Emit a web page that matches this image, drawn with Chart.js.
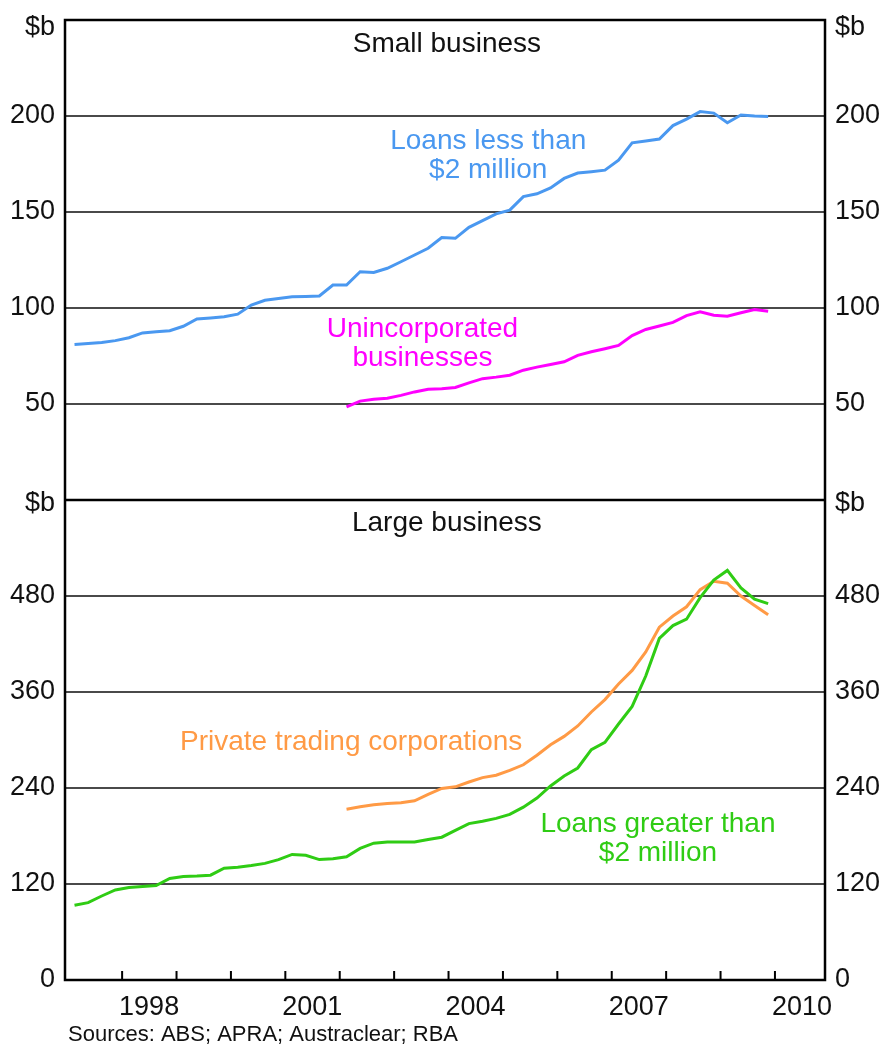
<!DOCTYPE html>
<html>
<head>
<meta charset="utf-8">
<title>Business credit</title>
<script src="https://cdn.jsdelivr.net/npm/chart.js@4.4.1/dist/chart.umd.min.js"></script>
<style>
  body { margin: 0; background: #fff; }
  #wrap { width: 885px; height: 1046px; }
</style>
</head>
<body>
<div id="wrap"><canvas id="loansChart" width="885" height="1046"></canvas></div>
<script>
// quarterly values, $b
const smallLoans = [81, 81.5, 82, 83, 84.5, 87, 87.6, 88.2, 90.5, 94.3, 94.8, 95.4,
  96.8, 101.5, 104, 104.9, 105.8, 106, 106.3, 112, 112, 118.9, 118.5, 120.7,
  124.1, 127.6, 131.1, 136.7, 136.3, 142, 145.5, 149, 151, 158, 159.5, 162.5,
  167.5, 170.3, 171, 171.8, 177, 186, 187, 188, 195, 198.4, 202.3, 201.5,
  196.5, 200.5, 200, 199.7];                         // from 1997 Q1
const unincorporated = [48.5, 51.5, 52.5, 53, 54.5, 56.3, 57.7, 58, 58.6, 61, 63.2, 64,
  65, 67.6, 69.2, 70.6, 72, 75.3, 77.2, 78.8, 80.5, 85.6, 88.8, 90.6,
  92.5, 96, 98, 96.2, 95.7, 97.5, 99.2, 98.3];     // from 2002 Q1
const largeLoans = [93.5, 96.7, 105, 112.5, 115.5, 117, 118, 127, 129.5, 130, 131, 139.8,
  140.8, 143, 145.8, 150.5, 157, 156, 150.5, 151.5, 154, 164.5, 171, 172.5,
  172.5, 172.5, 175.5, 178.5, 187, 195.5, 198.5, 202, 207, 216, 227.5, 242.5,
  255, 265, 288, 297, 320, 342, 380, 427, 443, 451, 478, 500,
  512, 490, 476, 470.5];                             // from 1997 Q1
const privateTrading = [213.5, 216.5, 219, 220.5, 221.5, 224, 232, 239.5, 241.5, 247.5, 253, 256,
  262, 269, 281, 294, 304.5, 317.5, 335, 350.5, 370, 387, 410, 441,
  455, 466.5, 488, 498.5, 496, 480, 468, 456.5];    // from 2002 Q1

const tickYears = [1998, 1999, 2000, 2001, 2002, 2003, 2004, 2005, 2006, 2007, 2008, 2009, 2010];
const labelYears = [1998, 2001, 2004, 2007, 2010];
const smallTicks = [50, 100, 150, 200];
const largeTicks = [0, 120, 240, 360, 480];

const FONT = '"Liberation Sans", Arial, sans-serif';

// quarter i of a series starting in startYear sits at the middle of that quarter
function toPoints(startYear, values) {
  return values.map((v, i) => ({ x: startYear + 0.125 + i * 0.25, y: v }));
}

const notes = [
  { text: ['Small business'], color: '#111', axis: 'ySmall', x: 2003.97, y: 237.5 },
  { text: ['Loans less than', '$2 million'], color: '#4a98f0', axis: 'ySmall', x: 2004.73, y: 179.5 },
  { text: ['Unincorporated', 'businesses'], color: '#ff00ff', axis: 'ySmall', x: 2003.52, y: 81.5 },
  { text: ['Large business'], color: '#111', axis: 'yLarge', x: 2003.97, y: 571 },
  { text: ['Private trading corporations'], color: '#ff9a45', axis: 'yLarge', x: 2002.21, y: 297 },
  { text: ['Loans greater than', '$2 million'], color: '#2fcc14', axis: 'yLarge', x: 2007.85, y: 177 }
];

const extras = {
  id: 'extras',
  afterDatasetsDraw(chart) {
    const { ctx, chartArea: a, scales } = chart;
    ctx.save();
    // frame and panel divider
    ctx.strokeStyle = '#000';
    ctx.lineWidth = 2.5;
    ctx.strokeRect(a.left, a.top, a.width, a.height);
    const yDiv = scales.ySmall.bottom;
    ctx.beginPath();
    ctx.moveTo(a.left, yDiv);
    ctx.lineTo(a.right, yDiv);
    ctx.stroke();
    // year ticks pointing into the plot
    ctx.lineWidth = 2;
    ctx.beginPath();
    tickYears.forEach(yr => {
      const px = scales.x.getPixelForValue(yr);
      ctx.moveTo(px, a.bottom);
      ctx.lineTo(px, a.bottom - 9);
    });
    ctx.stroke();
    // text notes
    ctx.font = '28px ' + FONT;
    ctx.textAlign = 'center';
    ctx.textBaseline = 'middle';
    notes.forEach(n => {
      const px = scales.x.getPixelForValue(n.x);
      const py = scales[n.axis].getPixelForValue(n.y);
      ctx.fillStyle = n.color;
      const lh = 29;
      const y0 = py - (n.text.length - 1) * lh / 2;
      n.text.forEach((t, i) => ctx.fillText(t, px, y0 + i * lh));
    });
    ctx.font = '22px ' + FONT;
    ctx.textAlign = 'left';
    ctx.fillStyle = '#111';
    ctx.fillText('Sources: ABS; APRA; Austraclear; RBA', 68, 1035);
    ctx.restore();
  }
};

function yAxis(stackName, max, gridTicks, unitAt, side) {
  return {
    type: 'linear',
    position: side,
    stack: stackName,
    stackWeight: 1,
    min: 0,
    max: max,
    border: { display: false },
    grid: {
      display: side === 'left',
      drawTicks: false,
      lineWidth: 2,
      color: c => (c.tick && gridTicks.includes(c.tick.value) && c.tick.value !== 0) ? '#4a4a4a' : 'rgba(0,0,0,0)'
    },
    afterBuildTicks: s => { s.ticks = gridTicks.concat([unitAt]).map(v => ({ value: v })); },
    afterFit: s => {
      s.width = side === 'left' ? 65 : 60;
      s.paddingTop = 0;
      s.paddingBottom = 0;
    },
    ticks: {
      padding: 10,
      color: '#111',
      font: { family: FONT, size: 27 },
      callback: v => v === unitAt ? '$b' : String(v)
    }
  };
}

const ctx = document.getElementById('loansChart').getContext('2d');
const chart = new Chart(ctx, {
  type: 'line',
  data: {
    datasets: [{
      label: 'Loans less than $2 million',
      data: toPoints(1997, smallLoans),
      yAxisID: 'ySmall',
      borderColor: '#4a98f0',
      borderWidth: 3,
      pointRadius: 0,
      tension: 0
    }, {
      label: 'Unincorporated businesses',
      data: toPoints(2002, unincorporated),
      yAxisID: 'ySmall',
      borderColor: '#ff00ff',
      borderWidth: 3,
      pointRadius: 0,
      tension: 0
    }, {
      label: 'Loans greater than $2 million',
      data: toPoints(1997, largeLoans),
      yAxisID: 'yLarge',
      borderColor: '#2fcc14',
      borderWidth: 3,
      pointRadius: 0,
      tension: 0
    }, {
      label: 'Private trading corporations',
      data: toPoints(2002, privateTrading),
      yAxisID: 'yLarge',
      borderColor: '#ff9a45',
      borderWidth: 3,
      pointRadius: 0,
      tension: 0
    }]
  },
  options: {
    responsive: false,
    animation: false,
    layout: { padding: { top: 20, left: 0, right: 0, bottom: 0 } },
    plugins: { legend: { display: false }, tooltip: { enabled: false } },
    scales: {
      x: {
        type: 'linear',
        min: 1996.95,
        max: 2010.92,
        grid: { display: false },
        border: { display: false },
        afterBuildTicks: s => { s.ticks = [1997].concat(tickYears).map(v => ({ value: v })); },
        afterFit: s => {
          s.height = 66;
          s.paddingLeft = 0;
          s.paddingRight = 0;
        },
        ticks: {
          autoSkip: false,
          maxRotation: 0,
          padding: 3,
          labelOffset: 27,
          color: '#111',
          font: { family: FONT, size: 27 },
          callback: v => labelYears.includes(v) ? String(v) : ''
        }
      },
      // left boxes are stacked in reverse order, so the lower panel comes first here
      yLarge: yAxis('left', 600, largeTicks, 595, 'left'),
      ySmall: yAxis('left', 250, smallTicks, 246, 'left'),
      ySmallR: yAxis('right', 250, smallTicks, 246, 'right'),
      yLargeR: yAxis('right', 600, largeTicks, 595, 'right')
    }
  },
  plugins: [extras]
});
</script>
</body>
</html>
